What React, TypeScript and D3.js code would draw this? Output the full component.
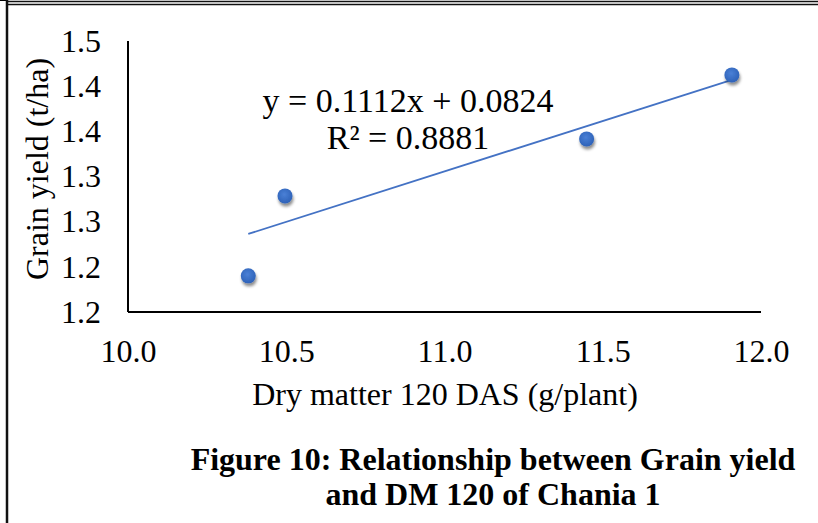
import React, { useEffect, useRef } from "react";
import * as d3 from "d3";

// dry matter 120 DAS (g/plant) and grain yield (t/ha)
const dryMatter = [10.38, 10.496, 11.449, 11.908];
const grainYield = [1.24, 1.3285, 1.3916, 1.4625];

// trendline ends as drawn in the figure
const trendX = [10.38, 11.908];
const trendY = [1.2864, 1.457];

const xTicks = [10.0, 10.5, 11.0, 11.5, 12.0];
const xTickLabels = ["10.0", "10.5", "11.0", "11.5", "12.0"];
const yTicks = [1.2, 1.25, 1.3, 1.35, 1.4, 1.45, 1.5];
const yTickLabels = ["1.2", "1.2", "1.3", "1.3", "1.4", "1.4", "1.5"];

const equationLines = ["y = 0.1112x + 0.0824", "R² = 0.8881"];
const captionLines = [
  "Figure 10: Relationship between Grain yield",
  "and DM 120 of Chania 1",
];

const W = 818;
const H = 523;
const FONT = "'Liberation Serif', 'Times New Roman', serif";

export default function App() {
  const ref = useRef<SVGSVGElement | null>(null);

  useEffect(() => {
    const svg = d3.select(ref.current);
    svg.selectAll("*").remove();

    const x = d3.scaleLinear().domain([10, 12]).range([128, 761]);
    const y = d3.scaleLinear().domain([1.2, 1.5]).range([312, 41]);

    // drop shadow for markers
    const defs = svg.append("defs");
    const f = defs
      .append("filter")
      .attr("id", "shadow")
      .attr("x", "-50%")
      .attr("y", "-50%")
      .attr("width", "200%")
      .attr("height", "200%");
    f.append("feDropShadow")
      .attr("dx", 1)
      .attr("dy", 3)
      .attr("stdDeviation", 1.6)
      .attr("flood-color", "#000")
      .attr("flood-opacity", 0.45);
    const grad = defs
      .append("radialGradient")
      .attr("id", "dot")
      .attr("cx", "45%")
      .attr("cy", "40%")
      .attr("r", "60%");
    grad.append("stop").attr("offset", "0%").attr("stop-color", "#4a80d6");
    grad.append("stop").attr("offset", "100%").attr("stop-color", "#2e62b8");

    svg.append("rect").attr("width", W).attr("height", H).attr("fill", "#fff");

    // page frame lines
    svg.append("line").attr("x1", 0).attr("x2", 6).attr("y1", 0.5).attr("y2", 0.5)
      .attr("stroke", "#000").attr("stroke-width", 1);
    svg.append("line").attr("x1", 6).attr("x2", W).attr("y1", 1.5).attr("y2", 1.5)
      .attr("stroke", "#111").attr("stroke-width", 1.5);
    svg.append("line").attr("x1", 6).attr("x2", W).attr("y1", 4.5).attr("y2", 4.5)
      .attr("stroke", "#111").attr("stroke-width", 1.5);
    svg.append("line").attr("x1", 7).attr("x2", 7).attr("y1", 0).attr("y2", H)
      .attr("stroke", "#111").attr("stroke-width", 2.5);

    // axes
    const xAxis = d3
      .axisBottom(x)
      .tickValues(xTicks)
      .tickSize(0)
      .tickFormat((_, i) => xTickLabels[i]);
    const gx = svg.append("g").attr("transform", `translate(0,${y(1.2)})`).call(xAxis);
    gx.select(".domain").attr("stroke", "#000").attr("stroke-width", 2)
      .attr("d", `M${x(10)},0H${x(12)}`);
    gx.selectAll("text")
      .attr("font-family", FONT)
      .attr("font-size", 32)
      .attr("fill", "#000")
      .attr("y", 50)
      .attr("dy", 0);

    const yAxis = d3
      .axisLeft(y)
      .tickValues(yTicks)
      .tickSize(0)
      .tickPadding(27)
      .tickFormat((_, i) => yTickLabels[i]);
    const gy = svg.append("g").attr("transform", `translate(${x(10)},0)`).call(yAxis);
    gy.select(".domain").attr("stroke", "#000").attr("stroke-width", 2)
      .attr("d", `M0,${y(1.2)}V${y(1.5)}`);
    gy.selectAll("text")
      .attr("font-family", FONT)
      .attr("font-size", 32)
      .attr("fill", "#000");

    // trendline
    const line = d3
      .line<number>()
      .x((d) => x(d))
      .y((_, i) => y(trendY[i]));
    svg.append("path")
      .attr("d", line(trendX))
      .attr("fill", "none")
      .attr("stroke", "#4472c4")
      .attr("stroke-width", 1.8);

    // points
    svg.append("g")
      .selectAll("circle")
      .data(dryMatter)
      .join("circle")
      .attr("cx", (d) => x(d))
      .attr("cy", (_, i) => y(grainYield[i]))
      .attr("r", 7.5)
      .attr("fill", "url(#dot)")
      .attr("filter", "url(#shadow)");

    // equation
    svg.append("g")
      .selectAll("text")
      .data(equationLines)
      .join("text")
      .attr("x", 408)
      .attr("y", (_, i) => 112 + i * 37)
      .attr("text-anchor", "middle")
      .attr("font-family", FONT)
      .attr("font-size", 34)
      .text((d) => d);

    // axis titles
    svg.append("text")
      .attr("x", 445)
      .attr("y", 405)
      .attr("text-anchor", "middle")
      .attr("font-family", FONT)
      .attr("font-size", 32)
      .text("Dry matter 120 DAS (g/plant)");
    svg.append("text")
      .attr("transform", `translate(48,${169}) rotate(-90)`)
      .attr("text-anchor", "middle")
      .attr("font-family", FONT)
      .attr("font-size", 32)
      .text("Grain yield (t/ha)");

    // caption
    svg.append("g")
      .selectAll("text")
      .data(captionLines)
      .join("text")
      .attr("x", 493)
      .attr("y", (_, i) => 470 + i * 35)
      .attr("text-anchor", "middle")
      .attr("font-family", FONT)
      .attr("font-weight", "bold")
      .attr("font-size", 32)
      .text((d) => d);
  }, []);

  return (
    <svg
      ref={ref}
      width={W}
      height={H}
      style={{ position: "absolute", left: 0, top: 0, display: "block" }}
    />
  );
}
